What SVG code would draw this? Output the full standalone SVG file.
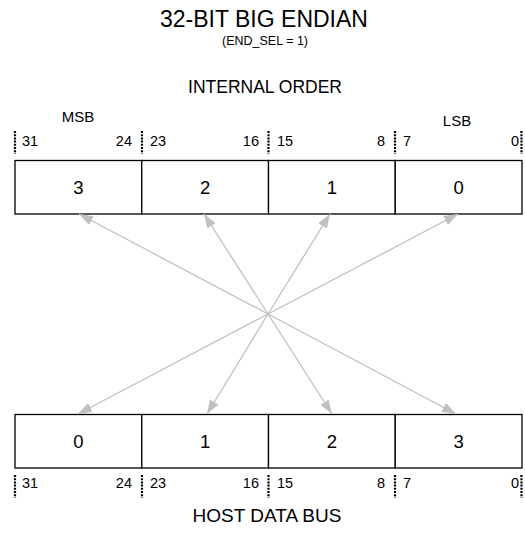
<svg xmlns="http://www.w3.org/2000/svg" width="525" height="556" viewBox="0 0 525 556">
<defs>
<style>
text{font-family:"Liberation Sans",Arial,sans-serif;fill:#000}
.t{font-size:23px;text-anchor:middle}
.s{font-size:12.5px;text-anchor:middle}
.h{font-size:17.5px;text-anchor:middle}
.hb{font-size:19px;text-anchor:middle}
.b{font-size:14.5px}
.e{text-anchor:end}
.m{font-size:15px;text-anchor:middle}
.c{font-size:18.5px;text-anchor:middle}
.box{fill:#fff;stroke:#000;stroke-width:1.3}
.tick{stroke:#000;stroke-width:2.2;stroke-dasharray:2 1.2}
.arr{stroke:#c0c0c0;stroke-width:1.3;fill:none;marker-end:url(#ah)}
</style>
<marker id="ah" viewBox="0 0 14 10" refX="14" refY="5" markerWidth="14" markerHeight="10" markerUnits="userSpaceOnUse" orient="auto">
<path d="M0,0 L14,5 L0,10 z" fill="#c0c0c0"/>
</marker>
</defs>
<rect width="525" height="556" fill="#fff"/>
<g id="titles">
<text class="t" x="264" y="27">32-BIT BIG ENDIAN</text>
<text class="s" x="265" y="45">(END_SEL = 1)</text>
<text class="h" x="265" y="93">INTERNAL ORDER</text>
<text class="hb" x="267" y="522">HOST DATA BUS</text>
</g>
<g id="internal-labels">
<text class="m" x="78" y="122">MSB</text>
<text class="m" x="457" y="126">LSB</text>
<line class="tick" x1="15" y1="131" x2="15" y2="154"/>
<line class="tick" x1="142" y1="131" x2="142" y2="154"/>
<line class="tick" x1="268.5" y1="131" x2="268.5" y2="154"/>
<line class="tick" x1="395" y1="131" x2="395" y2="154"/>
<line class="tick" x1="521.5" y1="131" x2="521.5" y2="154"/>
<text class="b" x="22" y="146">31</text>
<text class="b e" x="132" y="146">24</text>
<text class="b" x="150" y="146">23</text>
<text class="b e" x="259" y="146">16</text>
<text class="b" x="277" y="146">15</text>
<text class="b e" x="385" y="146">8</text>
<text class="b" x="403" y="146">7</text>
<text class="b e" x="519" y="146">0</text>
</g>
<g id="internal-order">
<g id="int-3"><rect class="box" x="15" y="160.5" width="126.75" height="53.5"/><text class="c" x="78.4" y="194">3</text></g>
<g id="int-2"><rect class="box" x="141.75" y="160.5" width="126.75" height="53.5"/><text class="c" x="205.1" y="194">2</text></g>
<g id="int-1"><rect class="box" x="268.5" y="160.5" width="126.75" height="53.5"/><text class="c" x="331.9" y="194">1</text></g>
<g id="int-0"><rect class="box" x="395.25" y="160.5" width="126.75" height="53.5"/><text class="c" x="458.6" y="194">0</text></g>
</g>
<g id="host-bus">
<g id="host-0"><rect class="box" x="15" y="414.5" width="126.75" height="53.5"/><text class="c" x="78.4" y="448">0</text></g>
<g id="host-1"><rect class="box" x="141.75" y="414.5" width="126.75" height="53.5"/><text class="c" x="205.1" y="448">1</text></g>
<g id="host-2"><rect class="box" x="268.5" y="414.5" width="126.75" height="53.5"/><text class="c" x="331.9" y="448">2</text></g>
<g id="host-3"><rect class="box" x="395.25" y="414.5" width="126.75" height="53.5"/><text class="c" x="458.6" y="448">3</text></g>
</g>
<g id="host-labels">
<line class="tick" x1="15" y1="475" x2="15" y2="498"/>
<line class="tick" x1="142" y1="475" x2="142" y2="498"/>
<line class="tick" x1="268.5" y1="475" x2="268.5" y2="498"/>
<line class="tick" x1="395" y1="475" x2="395" y2="498"/>
<line class="tick" x1="521.5" y1="475" x2="521.5" y2="498"/>
<text class="b" x="22" y="488">31</text>
<text class="b e" x="132" y="488">24</text>
<text class="b" x="150" y="488">23</text>
<text class="b e" x="259" y="488">16</text>
<text class="b" x="277" y="488">15</text>
<text class="b e" x="385" y="488">8</text>
<text class="b" x="403" y="488">7</text>
<text class="b e" x="519" y="488">0</text>
</g>
<g id="connectors">
<line class="arr" x1="268" y1="314" x2="79" y2="214"/>
<line class="arr" x1="268" y1="314" x2="204" y2="214"/>
<line class="arr" x1="268" y1="314" x2="330" y2="214"/>
<line class="arr" x1="268" y1="314" x2="458" y2="214"/>
<line class="arr" x1="268" y1="314" x2="78" y2="414"/>
<line class="arr" x1="268" y1="314" x2="207" y2="414"/>
<line class="arr" x1="268" y1="314" x2="332" y2="414"/>
<line class="arr" x1="268" y1="314" x2="456" y2="414"/>
</g>
</svg>
